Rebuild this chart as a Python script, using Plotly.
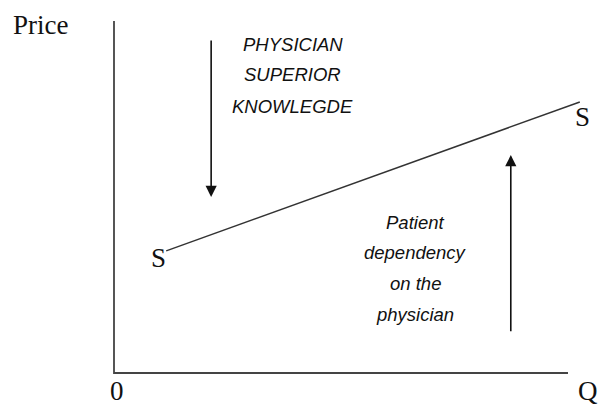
import plotly.graph_objects as go

# Axes (quantity, price units)
axis_q = [0, 0, 10]
axis_p = [10, 0, 0]

# Supply curve S-S
supply_q = [1.15, 10.26]
supply_p = [3.47, 7.70]

# Arrows: (q, p_start, p_end)
down_arrow = {"q": 2.14, "p_from": 9.49, "p_to": 5.0}
up_arrow = {"q": 8.74, "p_from": 1.14, "p_to": 6.19}

# Text labels
serif_labels = ["Price", "0", "Q", "S", "S"]
serif_q = [-1.61, 0.07, 10.44, 0.97, 10.33]
serif_p = [9.89, -0.50, -0.50, 3.27, 7.27]

physician_lines = ["PHYSICIAN", "SUPERIOR", "KNOWLEGDE"]
physician_q = 3.94
physician_p = [9.32, 8.47, 7.56]

patient_lines = ["Patient", "dependency", "on the", "physician"]
patient_q = 6.63
patient_p = [4.29, 3.41, 2.53, 1.65]

fig = go.Figure()
fig.add_trace(go.Scatter(x=axis_q, y=axis_p, mode="lines",
                         line=dict(color="#444", width=1.8), hoverinfo="skip"))
fig.add_trace(go.Scatter(x=supply_q, y=supply_p, mode="lines",
                         line=dict(color="#333", width=1.5), hoverinfo="skip"))

for a in (down_arrow, up_arrow):
    fig.add_annotation(x=a["q"], y=a["p_to"], ax=a["q"], ay=a["p_from"],
                       xref="x", yref="y", axref="x", ayref="y",
                       showarrow=True, arrowhead=2, arrowsize=1.4, arrowwidth=1.6,
                       arrowcolor="#111", text="")

for t, q, p in zip(serif_labels, serif_q, serif_p):
    fig.add_annotation(x=q, y=p, text=t, showarrow=False, borderpad=0,
                       font=dict(family="Liberation Serif", size=27, color="#111"))

for t, p in zip(physician_lines, physician_p):
    fig.add_annotation(x=physician_q, y=p, text="<i>%s</i>" % t, showarrow=False,
                       font=dict(family="Liberation Sans", size=18.5, color="#111"))
for t, p in zip(patient_lines, patient_p):
    fig.add_annotation(x=patient_q, y=p, text="<i>%s</i>" % t, showarrow=False,
                       font=dict(family="Liberation Sans", size=18.5, color="#111"))

fig.update_layout(
    width=598, height=407, margin=dict(l=0, r=0, t=0, b=0),
    paper_bgcolor="white", plot_bgcolor="white", showlegend=False,
    xaxis=dict(range=[-2.511, 10.661], visible=False, fixedrange=True),
    yaxis=dict(range=[-0.966, 10.597], visible=False, fixedrange=True),
)
fig.write_html("out.html", config={"displayModeBar": False},
               post_script="document.body.style.margin='0';document.body.style.overflow='hidden';")
